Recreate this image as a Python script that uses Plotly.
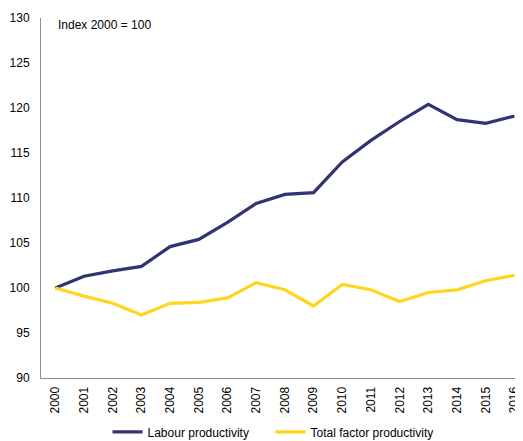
import plotly.graph_objects as go

years = [str(y) for y in range(2000, 2017)]
labour = [100, 101.3, 101.9, 102.4, 104.6, 105.4, 107.3, 109.4, 110.4, 110.6,
          114.0, 116.4, 118.5, 120.4, 118.7, 118.3, 119.1]
tfp = [100, 99.1, 98.3, 97.0, 98.3, 98.4, 98.9, 100.6, 99.8, 98.0,
       100.4, 99.8, 98.5, 99.5, 99.8, 100.8, 101.4]
y_ticks = [90, 95, 100, 105, 110, 115, 120, 125, 130]

font = "Liberation Sans, Arial, sans-serif"

fig = go.Figure()
fig.add_trace(go.Scatter(x=years, y=labour, mode="lines", name="Labour productivity",
                         line=dict(color="#2E3572", width=3.2)))
fig.add_trace(go.Scatter(x=years, y=tfp, mode="lines", name="Total factor productivity",
                         line=dict(color="#FFD51E", width=3.2)))

# page body adds an 8px offset; size the figure so it fills the 523x441 window
fig.update_layout(
    width=515, height=433,
    margin=dict(l=33, r=0, t=10, b=63, autoexpand=False),
    paper_bgcolor="white", plot_bgcolor="white",
    font=dict(family=font, size=12, color="#000000"),
    showlegend=True,
    legend=dict(orientation="h", x=0.138, xanchor="left", y=-0.19, yanchor="bottom",
                font=dict(size=12), entrywidth=118, itemwidth=30,
                bgcolor="rgba(0,0,0,0)"),
    annotations=[dict(text="Index 2000 = 100", xref="paper", yref="paper",
                      x=0.032, y=0.98, xanchor="left", yanchor="middle",
                      showarrow=False, font=dict(size=12))],
)
fig.update_xaxes(type="category", range=[-0.5, 16.3], showline=True, linecolor="#8C8C8C",
                 linewidth=1, showgrid=False, ticks="", tickangle=-90,
                 tickfont=dict(size=12), automargin=False, ticklabelstandoff=3)
fig.update_yaxes(range=[90, 130], tickvals=y_ticks, showline=True, linecolor="#8C8C8C",
                 linewidth=1, showgrid=False, zeroline=False, ticks="",
                 tickfont=dict(size=12), automargin=False, ticklabelstandoff=8)

fig.write_html("out.html")
